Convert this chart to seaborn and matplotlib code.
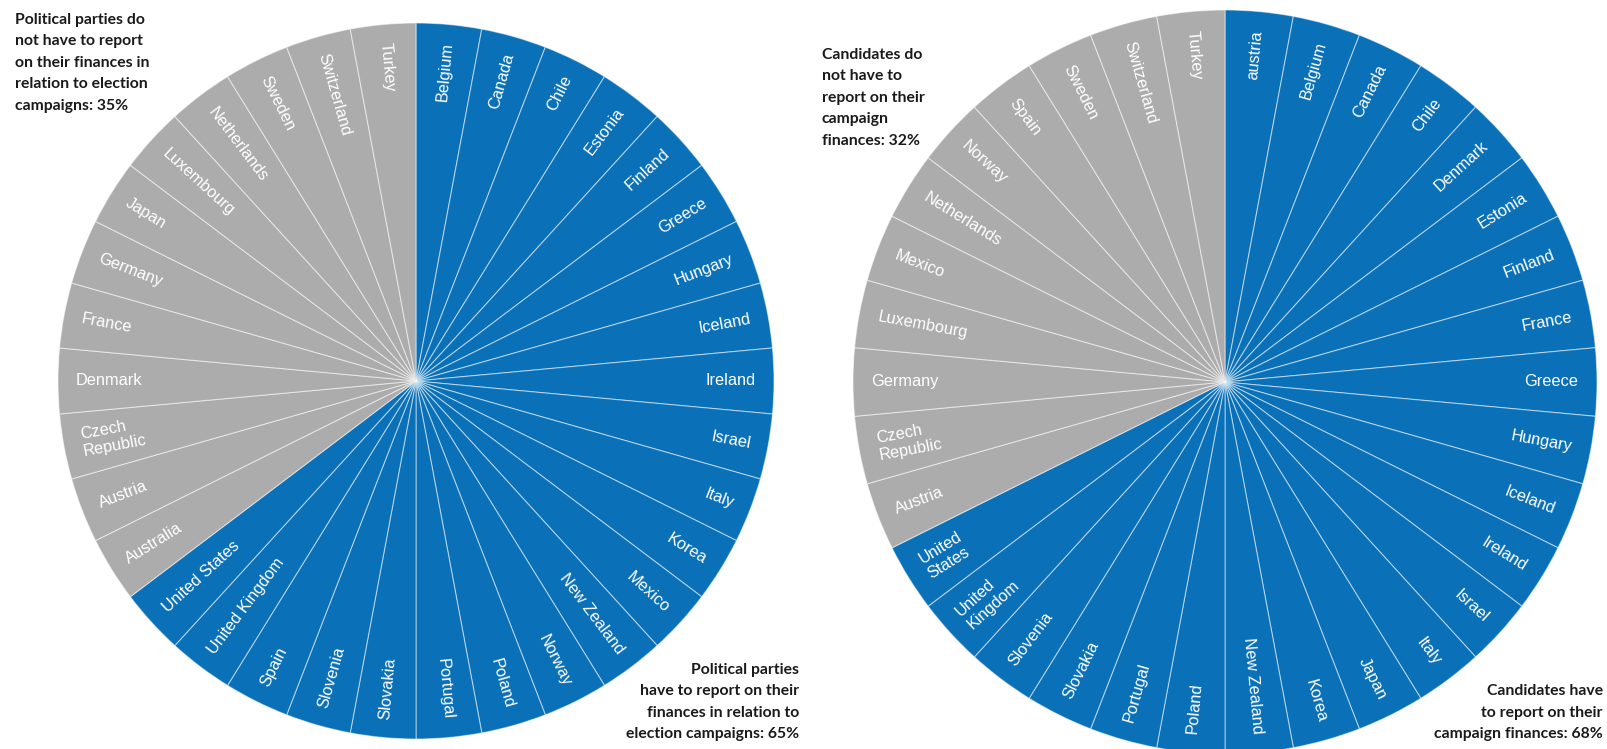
import matplotlib
matplotlib.use("Agg")
import seaborn as sns
from matplotlib import pyplot as plt

# left pie: political parties
parties_report = ["Belgium", "Canada", "Chile", "Estonia", "Finland", "Greece", "Hungary",
                  "Iceland", "Ireland", "Israel", "Italy", "Korea", "Mexico", "New Zealand",
                  "Norway", "Poland", "Portugal", "Slovakia", "Slovenia", "Spain",
                  "United Kingdom", "United States"]
parties_no_report = ["Australia", "Austria", "Czech\nRepublic", "Denmark", "France", "Germany",
                     "Japan", "Luxembourg", "Netherlands", "Sweden", "Switzerland", "Turkey"]

# right pie: candidates
cand_report = ["austria", "Belgium", "Canada", "Chile", "Denmark", "Estonia", "Finland", "France",
               "Greece", "Hungary", "Iceland", "Ireland", "Israel", "Italy", "Japan", "Korea",
               "New Zealand", "Poland", "Portugal", "Slovakia", "Slovenia", "United\nKingdom",
               "United\nStates"]
cand_no_report = ["Austria", "Czech\nRepublic", "Germany", "Luxembourg", "Mexico", "Netherlands",
                  "Norway", "Spain", "Sweden", "Switzerland", "Turkey"]

note_left_no = "Political parties do\nnot have to report\non their finances in\nrelation to election\ncampaigns: 35%"
note_left_yes = "Political parties\nhave to report on their\nfinances in relation to\nelection campaigns: 65%"
note_right_no = "Candidates do\nnot have to\nreport on their\ncampaign\nfinances: 32%"
note_right_yes = "Candidates have\nto report on their\ncampaign finances: 68%"

BLUE = "#0a71b8"
GRAY = "#acacac"
W, H = 1608, 749

sns.set_theme(style="white")
plt.rcParams["font.family"] = ["Liberation Sans", "DejaVu Sans"]


def draw_pie(ax, yes, no):
    labels = yes + no
    sizes = [1] * len(labels)  # every country counts once
    colors = [BLUE] * len(yes) + [GRAY] * len(no)
    wedges, texts = ax.pie(sizes, labels=labels, colors=colors, startangle=90,
                           counterclock=False, labeldistance=0.95, rotatelabels=True,
                           wedgeprops=dict(edgecolor=(1, 1, 1, 0.5), linewidth=0.8),
                           textprops=dict(color="white", fontsize=11.8))
    # labels sit just inside the rim and run along the radius
    for t in texts:
        x, y = t.get_position()
        t.set_rotation_mode("anchor")
        t.set_ha("right" if x > 0 else "left")
        t.set_va("center")
    ax.set_xlim(-1, 1)
    ax.set_ylim(-1, 1)


def px_axes(fig, cx, cy, r):
    return fig.add_axes([(cx - r) / W, (H - cy - r) / H, 2 * r / W, 2 * r / H])


fig = plt.figure(figsize=(W / 100, H / 100), dpi=100)
ax1 = px_axes(fig, 416, 381, 358)
draw_pie(ax1, parties_report, parties_no_report)
ax2 = px_axes(fig, 1225, 382, 372)
draw_pie(ax2, cand_report, cand_no_report)

note_kw = dict(fontsize=11.3, family=["Lato", "DejaVu Sans"], color="#1a1a1a",
               linespacing=1.68, fontweight="bold")
fig.text(15 / W, 1 - 13 / H, note_left_no, ha="left", va="top", **note_kw)
fig.text(799 / W, 1 - 741 / H, note_left_yes, ha="right", va="bottom", multialignment="right", **note_kw)
fig.text(822 / W, 1 - 48 / H, note_right_no, ha="left", va="top", **note_kw)
fig.text(1603 / W, 1 - 741 / H, note_right_yes, ha="right", va="bottom", multialignment="right", **note_kw)

fig.savefig("out.png", dpi=100, facecolor="white")
